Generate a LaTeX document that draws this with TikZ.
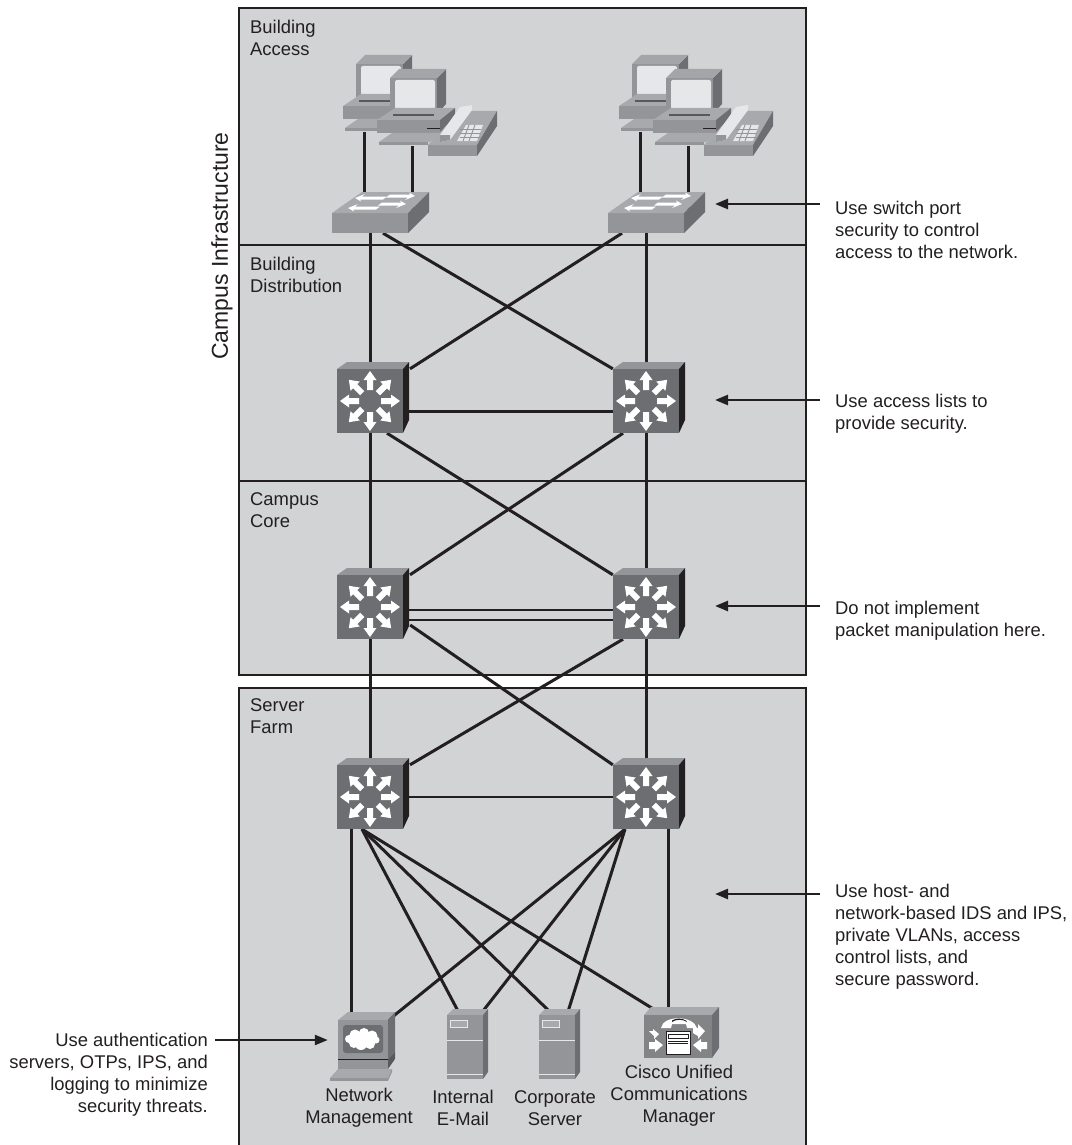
\documentclass[tikz,border=0pt]{standalone}
\usepackage{fontspec}
\setmainfont{Liberation Sans}
\usetikzlibrary{arrows.meta}
\definecolor{panelgray}{HTML}{D1D3D4}
\definecolor{inkdark}{HTML}{231F20}
\definecolor{devfront}{HTML}{6D6E71}
\definecolor{devtop}{HTML}{939598}
\definecolor{devside}{HTML}{58595B}
\definecolor{boxfront}{HTML}{939598}
\definecolor{boxtop}{HTML}{A7A9AC}
\definecolor{screenlight}{HTML}{E6E7E8}
\newcommand{\swarrowR}[3]{\fill[white] (#1-2,#3+1.5) -- (#2-7,#3+1.5) -- (#2-10,#3+4) -- (#2,#3) -- (#2-6,#3-3.5) -- (#2-5,#3-1.5) -- (#1+2,#3-1.5) -- cycle;}
\newcommand{\swarrowL}[3]{\fill[white] (#2+2,#3-1.5) -- (#1+7,#3-1.5) -- (#1+10,#3-4) -- (#1,#3) -- (#1+6,#3+3.5) -- (#1+5,#3+1.5) -- (#2-2,#3+1.5) -- cycle;}
\tikzset{
  panel/.style={draw=inkdark,fill=panelgray,line width=2pt},
  link/.style={draw=inkdark,line width=3pt},
  thinlink/.style={draw=inkdark,line width=2.2pt},
  note/.style={draw=inkdark,line width=2.4pt,-{Triangle[length=13pt,width=10pt]}},
  txt/.style={inner sep=0pt,font=\fontsize{18.4}{22}\selectfont,text=inkdark},
  routerdev/.pic={
    \fill[devtop] (-33,-32) -- (-23,-39) -- (39,-39) -- (33,-32) -- cycle;
    \fill[inkdark] (33,-32) -- (39,-39) -- (39,19) -- (33,32) -- cycle;
    \fill[devfront] (-33,-32) rectangle (33,32);
    \foreach \a in {0,45,...,315}
      \fill[white,rotate=\a] (11,-3) -- (21,-3) -- (21,-6.5) -- (30,0) -- (21,6.5) -- (21,3) -- (11,3) -- cycle;
  },
  switchdev/.pic={
    \fill[boxfront] (-38,-10) rectangle (38,10);
    \fill[boxtop] (-38,-10) -- (-8,-31) -- (59,-31) -- (38,-10) -- cycle;
    \fill[devfront] (38,-10) -- (59,-31) -- (59,-11) -- (38,10) -- cycle;
    \swarrowL{-15}{15}{-25}
    \swarrowR{18}{45}{-27}
    \swarrowL{-22}{8}{-15}
    \swarrowR{10}{36}{-19}
  },
  pcdev/.pic={
    \fill[devfront] (47,0) -- (56,-9) -- (56,26) -- (47,36) -- cycle;
    \fill[devtop!85!white] (0,0) -- (9,-9) -- (56,-9) -- (47,0) -- cycle;
    \fill[boxfront] (0,0) rectangle (47,36);
    \fill[screenlight,rounded corners=2pt] (5,2) rectangle (45,31);
    \fill[boxtop] (-13,42) -- (5,30) -- (65,30) -- (50,42) -- cycle;
    \fill[devfront] (50,42) -- (65,30) -- (65,42) -- (50,55) -- cycle;
    \fill[boxfront] (-13,42) rectangle (50,55);
    \fill[devside] (3,36) rectangle (44,38.5);
    \fill[inkdark] (37,50) rectangle (50,51);
    \fill[boxtop] (-11,64) -- (2,55) -- (50,55) -- (40,64) -- cycle;
    \fill[boxfront] (-11,64) rectangle (38,67);
  },
  phonedev/.pic={
    \fill[boxfront] (0,0) rectangle (49,11);
    \fill[boxtop] (0,0) -- (32,-34) -- (69,-34) -- (49,0) -- cycle;
    \fill[devfront] (49,0) -- (69,-34) -- (69,-19) -- (49,11) -- cycle;
    \fill[screenlight] (12,-10) -- (32,-38) -- (44,-40) -- (44,-35) -- (22,-5) -- (12,-3) -- cycle;
    \fill[boxfront] (12,-3) -- (22,-5) -- (22,-10) -- (12,-10) -- cycle;
    \fill[screenlight] (38,-20) -- (55,-20) -- (49,-4) -- (29,-4) -- cycle;
    \foreach \u in {-16,-12,-8}
      \draw[devtop,line width=0.9pt] (32,\u) -- (53,\u);
    \draw[devtop,line width=0.9pt] (41,-20) -- (35,-4) (47,-20) -- (41,-4);
  },
  netdev/.pic={
    \fill[boxtop] (-25,-20) -- (-15,-28) -- (32,-28) -- (25,-20) -- cycle;
    \fill[devfront] (25,-20) -- (32,-28) -- (32,12) -- (25,19) -- cycle;
    \fill[boxfront] (-25,-20) rectangle (25,19);
    \fill[devfront,rounded corners=3pt] (-20,-15) rectangle (20,13);
    \fill[white] (-14,-1) circle (4) (-8,-5) circle (5.5) (1,-7) circle (5) (9,-4) circle (5.5) (13,0) circle (3.5) (7,4) circle (5) (-2,4) circle (6) (-9,3) circle (5) (0,-1) circle (8);
    \fill[devside] (25,19) -- (32,12) -- (32,19) -- (25,29) -- cycle;
    \fill[inkdark] (-25,19) rectangle (25,20);
    \fill[boxfront] (-25,20) rectangle (25,29);
    \fill[boxtop] (-33,38) -- (-25,29) -- (29,29) -- (25,38) -- cycle;
    \fill[boxfront] (-33,38) rectangle (25,41);
    \fill[devtop] (25,38) -- (29,29) -- (29,32) -- (25,41) -- cycle;
  },
  serverdev/.pic={
    \fill[boxtop] (-18,-32) -- (-12,-38) -- (23,-38) -- (18,-32) -- cycle;
    \fill[devfront] (18,-32) -- (23,-38) -- (23,25) -- (18,32) -- cycle;
    \fill[boxfront] (-18,-32) rectangle (18,32);
    \fill[boxtop] (-15,-27) rectangle (2,-20);
    \draw[screenlight,line width=0.7pt] (-15,-27) rectangle (2,-20);
    \draw[screenlight,line width=0.8pt] (-18,-7) -- (18,-7) (-18,27) -- (18,27);
  },
  cucmdev/.pic={
    \fill[boxtop] (-34,-21) -- (-27,-29) -- (41,-29) -- (34,-21) -- cycle;
    \fill[devfront] (34,-21) -- (41,-29) -- (41,12) -- (34,22) -- cycle;
    \fill[devfront!85!white] (-34,-21) rectangle (34,22);
    \fill[white] (-17,-8) .. controls (-15,-21) and (15,-21) .. (19,-8) -- (9,-8) -- (8,-12) -- (-6,-12) -- (-7,-8) -- cycle;
    \fill[inkdark] (-6,-14) .. controls (-2,-17) and (5,-17) .. (9,-14) -- (8,-15.5) .. controls (4,-18) and (-2,-18) .. (-6,-15.5) -- cycle;
    \draw[inkdark,fill=white,line width=0.8pt] (-12,-5) rectangle (12,18);
    \draw[inkdark,line width=0.8pt] (-10,-2) rectangle (10,2) (-10,5) -- (10,5) (-10,7) -- (10,7);
    \fill[white] (-19,-2) -- (-24,3) -- (-24,0) -- (-29,-5) -- (-25,-5) -- (-25,-7) -- cycle;
    \fill[white] (-29,6) -- (-23,6) -- (-23,3) -- (-15,9) -- (-23,16) -- (-23,13) -- (-29,13) -- cycle;
    \fill[white] (20,-12) -- (27,-5) -- (20,3) -- (20,0) -- (15,-3) -- (15,-8) -- (20,-8) -- cycle;
    \fill[white] (29,6) -- (23,6) -- (23,3) -- (15,9) -- (23,16) -- (23,13) -- (29,13) -- cycle;
  },
}
\begin{document}
\begin{tikzpicture}[x=1pt,y=-1pt]
\useasboundingbox (0,0) rectangle (1071,1145);
\fill[white] (0,0) rectangle (1071,1145);
% panels
\draw[panel] (238.5,8.5) rectangle (805.5,244.5);
\draw[panel] (238.5,244.5) rectangle (805.5,481);
\draw[panel] (238.5,481) rectangle (805.5,675);
\path[fill=panelgray] (238.5,688) rectangle (805.5,1145);
\draw[draw=inkdark,line width=2pt] (238.5,1145) -- (238.5,688) -- (805.5,688) -- (805.5,1145);
% anchor nodes of the devices
\node[inner sep=0pt,minimum width=76pt,minimum height=20pt] (s1) at (370,223) {};
\node[inner sep=0pt,minimum width=76pt,minimum height=20pt] (s2) at (646,223) {};
\node[inner sep=0pt,minimum width=66pt,minimum height=64pt] (r1) at (370,401) {};
\node[inner sep=0pt,minimum width=66pt,minimum height=64pt] (r2) at (646,401) {};
\node[inner sep=0pt,minimum width=66pt,minimum height=64pt] (r3) at (370,607) {};
\node[inner sep=0pt,minimum width=66pt,minimum height=64pt] (r4) at (646,607) {};
\node[inner sep=0pt,minimum width=66pt,minimum height=64pt] (r5) at (370,797) {};
\node[inner sep=0pt,minimum width=66pt,minimum height=64pt] (r6) at (646,797) {};
\node[inner sep=0pt,minimum width=50pt,minimum height=39pt] (n1) at (363,1040) {};
\node[inner sep=0pt,minimum width=36pt,minimum height=64pt] (e1) at (465,1047) {};
\node[inner sep=0pt,minimum width=36pt,minimum height=64pt] (c1) at (557,1047) {};
\node[inner sep=0pt,minimum width=68pt,minimum height=43pt] (m1) at (678,1036) {};
\node[inner sep=0pt,minimum width=4pt,minimum height=4pt] (k1) at (364,130) {};
\node[inner sep=0pt,minimum width=4pt,minimum height=4pt] (k2) at (412,144) {};
\node[inner sep=0pt,minimum width=4pt,minimum height=4pt] (k3) at (640,130) {};
\node[inner sep=0pt,minimum width=4pt,minimum height=4pt] (k4) at (688,144) {};
% connectors
\draw[link] (k1) -- ([xshift=-6pt]s1.north);
\draw[link] (k2) -- ([xshift=42pt]s1.north);
\draw[link] (k3) -- ([xshift=-6pt]s2.north);
\draw[link] (k4) -- ([xshift=42pt]s2.north);
\draw[link] (s1.south) -- (r1.north);
\draw[link] (s2.south) -- (r2.north);
\draw[link] ([xshift=13pt]s1.south) -- (r2.north west);
\draw[link] ([xshift=-24pt]s2.south) -- ([xshift=40pt]r1.north);
\draw[link] ([yshift=-10pt]r1.east) -- ([yshift=-10pt]r2.west);
\draw[link] (r1.south) -- (r3.north);
\draw[link] (r2.south) -- (r4.north);
\draw[link] ([xshift=17pt]r1.south) -- (r4.north west);
\draw[link] ([xshift=-23pt]r2.south) -- ([xshift=40pt]r3.north);
\draw[thinlink] ([yshift=-3pt]r3.east) -- ([yshift=-3pt]r4.west);
\draw[thinlink] ([yshift=-13pt]r3.east) -- ([yshift=-13pt]r4.west);
\draw[link] (r3.south) -- (r5.north);
\draw[link] (r4.south) -- (r6.north);
\draw[link] ([xshift=7pt,yshift=-18pt]r3.east) -- (r6.north west);
\draw[link] ([xshift=-23pt]r4.south) -- ([xshift=40pt]r5.north);
\draw[thinlink] (r5.east) -- (r6.west);
\draw[link] ([xshift=-19pt]r5.south) -- ([xshift=-12pt]n1.north);
\draw[link] ([xshift=-8pt]r5.south) -- ([xshift=-5pt]e1.north);
\draw[link] ([xshift=-8pt]r5.south) -- ([xshift=-4pt]c1.north);
\draw[link] ([xshift=-8pt]r5.south) -- ([xshift=-16pt]m1.north);
\draw[link] ([xshift=-21pt]r6.south) -- (n1.north east);
\draw[link] ([xshift=-21pt]r6.south) -- ([xshift=15pt]e1.north);
\draw[link] ([xshift=-21pt]r6.south) -- ([xshift=10pt]c1.north);
\draw[link] ([xshift=22pt]r6.south) -- ([xshift=-10pt]m1.north);
% devices
\pic at (356,64) {pcdev};
\pic at (390,78) {pcdev};
\pic at (428,145) {phonedev};
\pic at (632,64) {pcdev};
\pic at (666,78) {pcdev};
\pic at (704,145) {phonedev};
\pic at (s1) {switchdev};
\pic at (s2) {switchdev};
\pic at (r1) {routerdev};
\pic at (r2) {routerdev};
\pic at (r3) {routerdev};
\pic at (r4) {routerdev};
\pic at (r5) {routerdev};
\pic at (r6) {routerdev};
\pic at (n1) {netdev};
\pic at (e1) {serverdev};
\pic at (c1) {serverdev};
\pic at (m1) {cucmdev};
% panel labels
\node[txt,anchor=west,align=left] (la) at (250,38) {Building\\Access};
\node[txt,anchor=west,align=left] (lb) at (250,275) {Building\\Distribution};
\node[txt,anchor=west,align=left] (lc) at (250,510) {Campus\\Core};
\node[txt,anchor=west,align=left] (ld) at (250,716) {Server\\Farm};
\node[txt,font=\fontsize{23}{27}\selectfont,rotate=90] (ci) at (222,246) {Campus Infrastructure};
% device labels
\node[txt,align=center] (tn) at (359,1108) {Network\\Management};
\node[txt,align=center] (te) at (463,1108) {Internal\\E-Mail};
\node[txt,align=center] (tc) at (555,1108) {Corporate\\Server};
\node[txt,align=center] (tm) at (679,1096) {Cisco Unified\\Communications\\Manager};
% annotations
\node[txt,anchor=west,align=left] (a1) at (835,230) {Use switch port\\security to control\\access to the network.};
\node[txt,anchor=west,align=left] (a2) at (835,414) {Use access lists to\\provide security.};
\node[txt,anchor=west,align=left] (a3) at (835,621) {Do not implement\\packet manipulation here.};
\node[txt,anchor=west,align=left] (a4) at (835,937) {Use host- and\\network-based IDS and IPS,\\private VLANs, access\\control lists, and\\secure password.};
\node[txt,anchor=east,align=right] (a5) at (208,1075) {Use authentication\\servers, OTPs, IPS, and\\logging to minimize\\security threats.};
\coordinate (t1) at (715,204);
\coordinate (t2) at (715,400);
\coordinate (t3) at (715,606);
\coordinate (t4) at (715,894);
\coordinate (t5) at ([xshift=-10pt]n1.west);
\draw[note] ([xshift=-15pt]a1.west |- t1) -- (t1);
\draw[note] ([xshift=-15pt]a2.west |- t2) -- (t2);
\draw[note] ([xshift=-15pt]a3.west |- t3) -- (t3);
\draw[note] ([xshift=-15pt]a4.west |- t4) -- (t4);
\draw[note] ([xshift=7pt]a5.east |- t5) -- (t5);
\end{tikzpicture}
\end{document}
